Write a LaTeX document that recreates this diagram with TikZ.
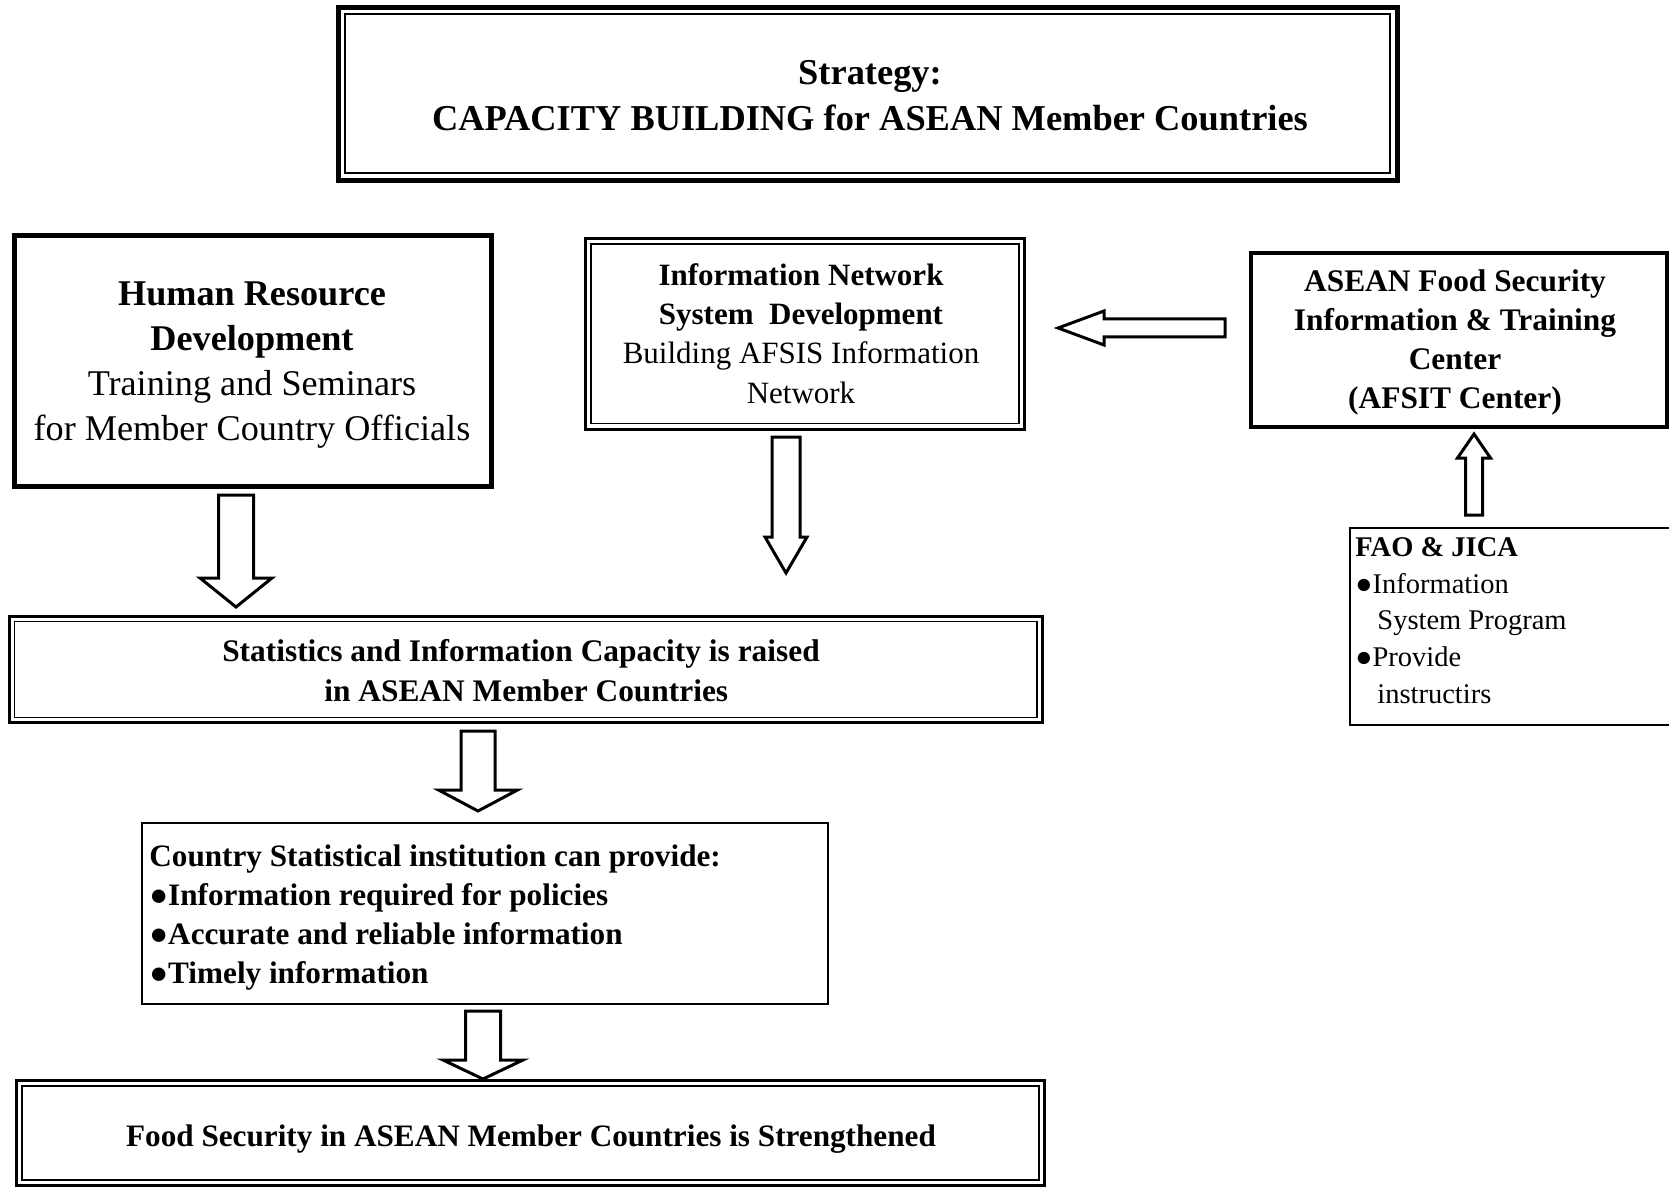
\documentclass[tikz,border=0pt]{standalone}
\usepackage{fontspec}
\setmainfont{Liberation Serif}
\newcommand{\myvarrow}[6]{\draw[arr] (#1-#5,#2) -- (#1+#5,#2) -- (#1+#5,#3) -- (#1+#6,#3) -- (#1,#4) -- (#1-#6,#3) -- (#1-#5,#3) -- cycle;}
\begin{document}
\begin{tikzpicture}[x=0.5pt,y=-0.5pt,
  box/.style={draw, rectangle, outer sep=0pt, inner sep=0pt},
  arr/.style={draw, line width=1.5pt, fill=white, line join=miter},
  txt/.style={inner sep=0pt}]
\useasboundingbox (0,0) rectangle (1669,1187);
\fill[white] (0,0) rectangle (1669,1187);

% Strategy box
\node[box, line width=2.5pt, minimum width=529.5pt, minimum height=86.5pt] (strat) at (867.5,94) {};
\draw[line width=1pt] ([shift={(7,7)}]strat.north west) rectangle ([shift={(-7,-7)}]strat.south east);
\node[txt, font=\fontsize{18.2}{23}\selectfont\bfseries, align=center] (strattxt) at (870,95.5) {Strategy:\\CAPACITY BUILDING for ASEAN Member Countries};

% Human resource box
\node[box, line width=2.5pt, minimum width=238.5pt, minimum height=125.5pt] (hrd) at (253,361) {};
\node[txt, font=\fontsize{18.1}{22.5}\selectfont, align=center] (hrdtxt) at (252,365.5) {\textbf{Human Resource}\\\textbf{Development}\\Training and Seminars\\for Member Country Officials};

% Information network box
\node[box, line width=1.5pt, minimum width=219.5pt, minimum height=95.25pt] (inet) at (805,333.75) {};
\draw[line width=0.75pt] ([shift={(5.5,5.5)}]inet.north west) rectangle ([shift={(-5.5,-5.5)}]inet.south east);
\node[txt, font=\fontsize{15.5}{19.7}\selectfont, align=center] (inettxt) at (801,333.5) {\textbf{Information Network}\\\textbf{System\ \ Development}\\Building AFSIS Information\\Network};

% AFSIT box
\node[box, line width=2pt, minimum width=207.75pt, minimum height=86.5pt] (afsit) at (1458.75,340) {};
\node[txt, font=\fontsize{15.7}{19.5}\selectfont\bfseries, align=center] (afsittxt) at (1455,342) {ASEAN Food Security\\Information \& Training\\Center\\(AFSIT Center)};

% FAO box
\node[box, line width=1pt, minimum width=165pt, minimum height=98.5pt] (fao) at (1515,626) {};
\node[txt, font=\fontsize{14.25}{18.3}\selectfont, align=left, anchor=west] (faotxt) at (1355,620.5) {\textbf{FAO \& JICA}\\●Information\\\hspace*{11pt}System Program\\●Provide\\\hspace*{11pt}instructirs};

% Statistics box
\node[box, line width=1.5pt, minimum width=516.25pt, minimum height=53pt] (stats) at (525.75,669.5) {};
\draw[line width=0.75pt] ([shift={(5,5)}]stats.north west) rectangle ([shift={(-5,-5)}]stats.south east);
\node[txt, font=\fontsize{15.7}{20}\selectfont\bfseries, align=center] (statstxt) at (521,670.5) {Statistics and Information Capacity is raised\\\hspace*{5.3pt}in ASEAN Member Countries};

% Country box
\node[box, line width=1pt, minimum width=343pt, minimum height=90.5pt] (ctry) at (485,913.5) {};
\node[txt, font=\fontsize{15.6}{19.5}\selectfont\bfseries, align=left, anchor=west] (ctrytxt) at (149,917.5) {Country Statistical institution can provide:\\●Information required for policies\\●Accurate and reliable information\\●Timely information};

% Food box
\node[box, line width=1.5pt, minimum width=514pt, minimum height=52.25pt] (food) at (530.5,1132.75) {};
\draw[line width=1pt] ([shift={(5.5,5.5)}]food.north west) rectangle ([shift={(-5.5,-5.5)}]food.south east);
\node[txt, font=\fontsize{15.6}{19}\selectfont\bfseries] (foodtxt) at (531,1139) {Food Security in ASEAN Member Countries is Strengthened};

% Block arrows
\myvarrow{236}{495}{578}{607}{17.5}{36}
\myvarrow{786}{437}{537}{573}{14}{21}
\myvarrow{478}{731}{790}{811}{17}{39.5}
\myvarrow{483}{1011}{1060}{1079}{17.5}{40}
\myvarrow{1474}{515}{458}{434}{8.5}{16.5}
\draw[arr] (1225,319) -- (1104,319) -- (1104,311) -- (1058,328) -- (1104,345) -- (1104,337) -- (1225,337) -- cycle;
\end{tikzpicture}
\end{document}
